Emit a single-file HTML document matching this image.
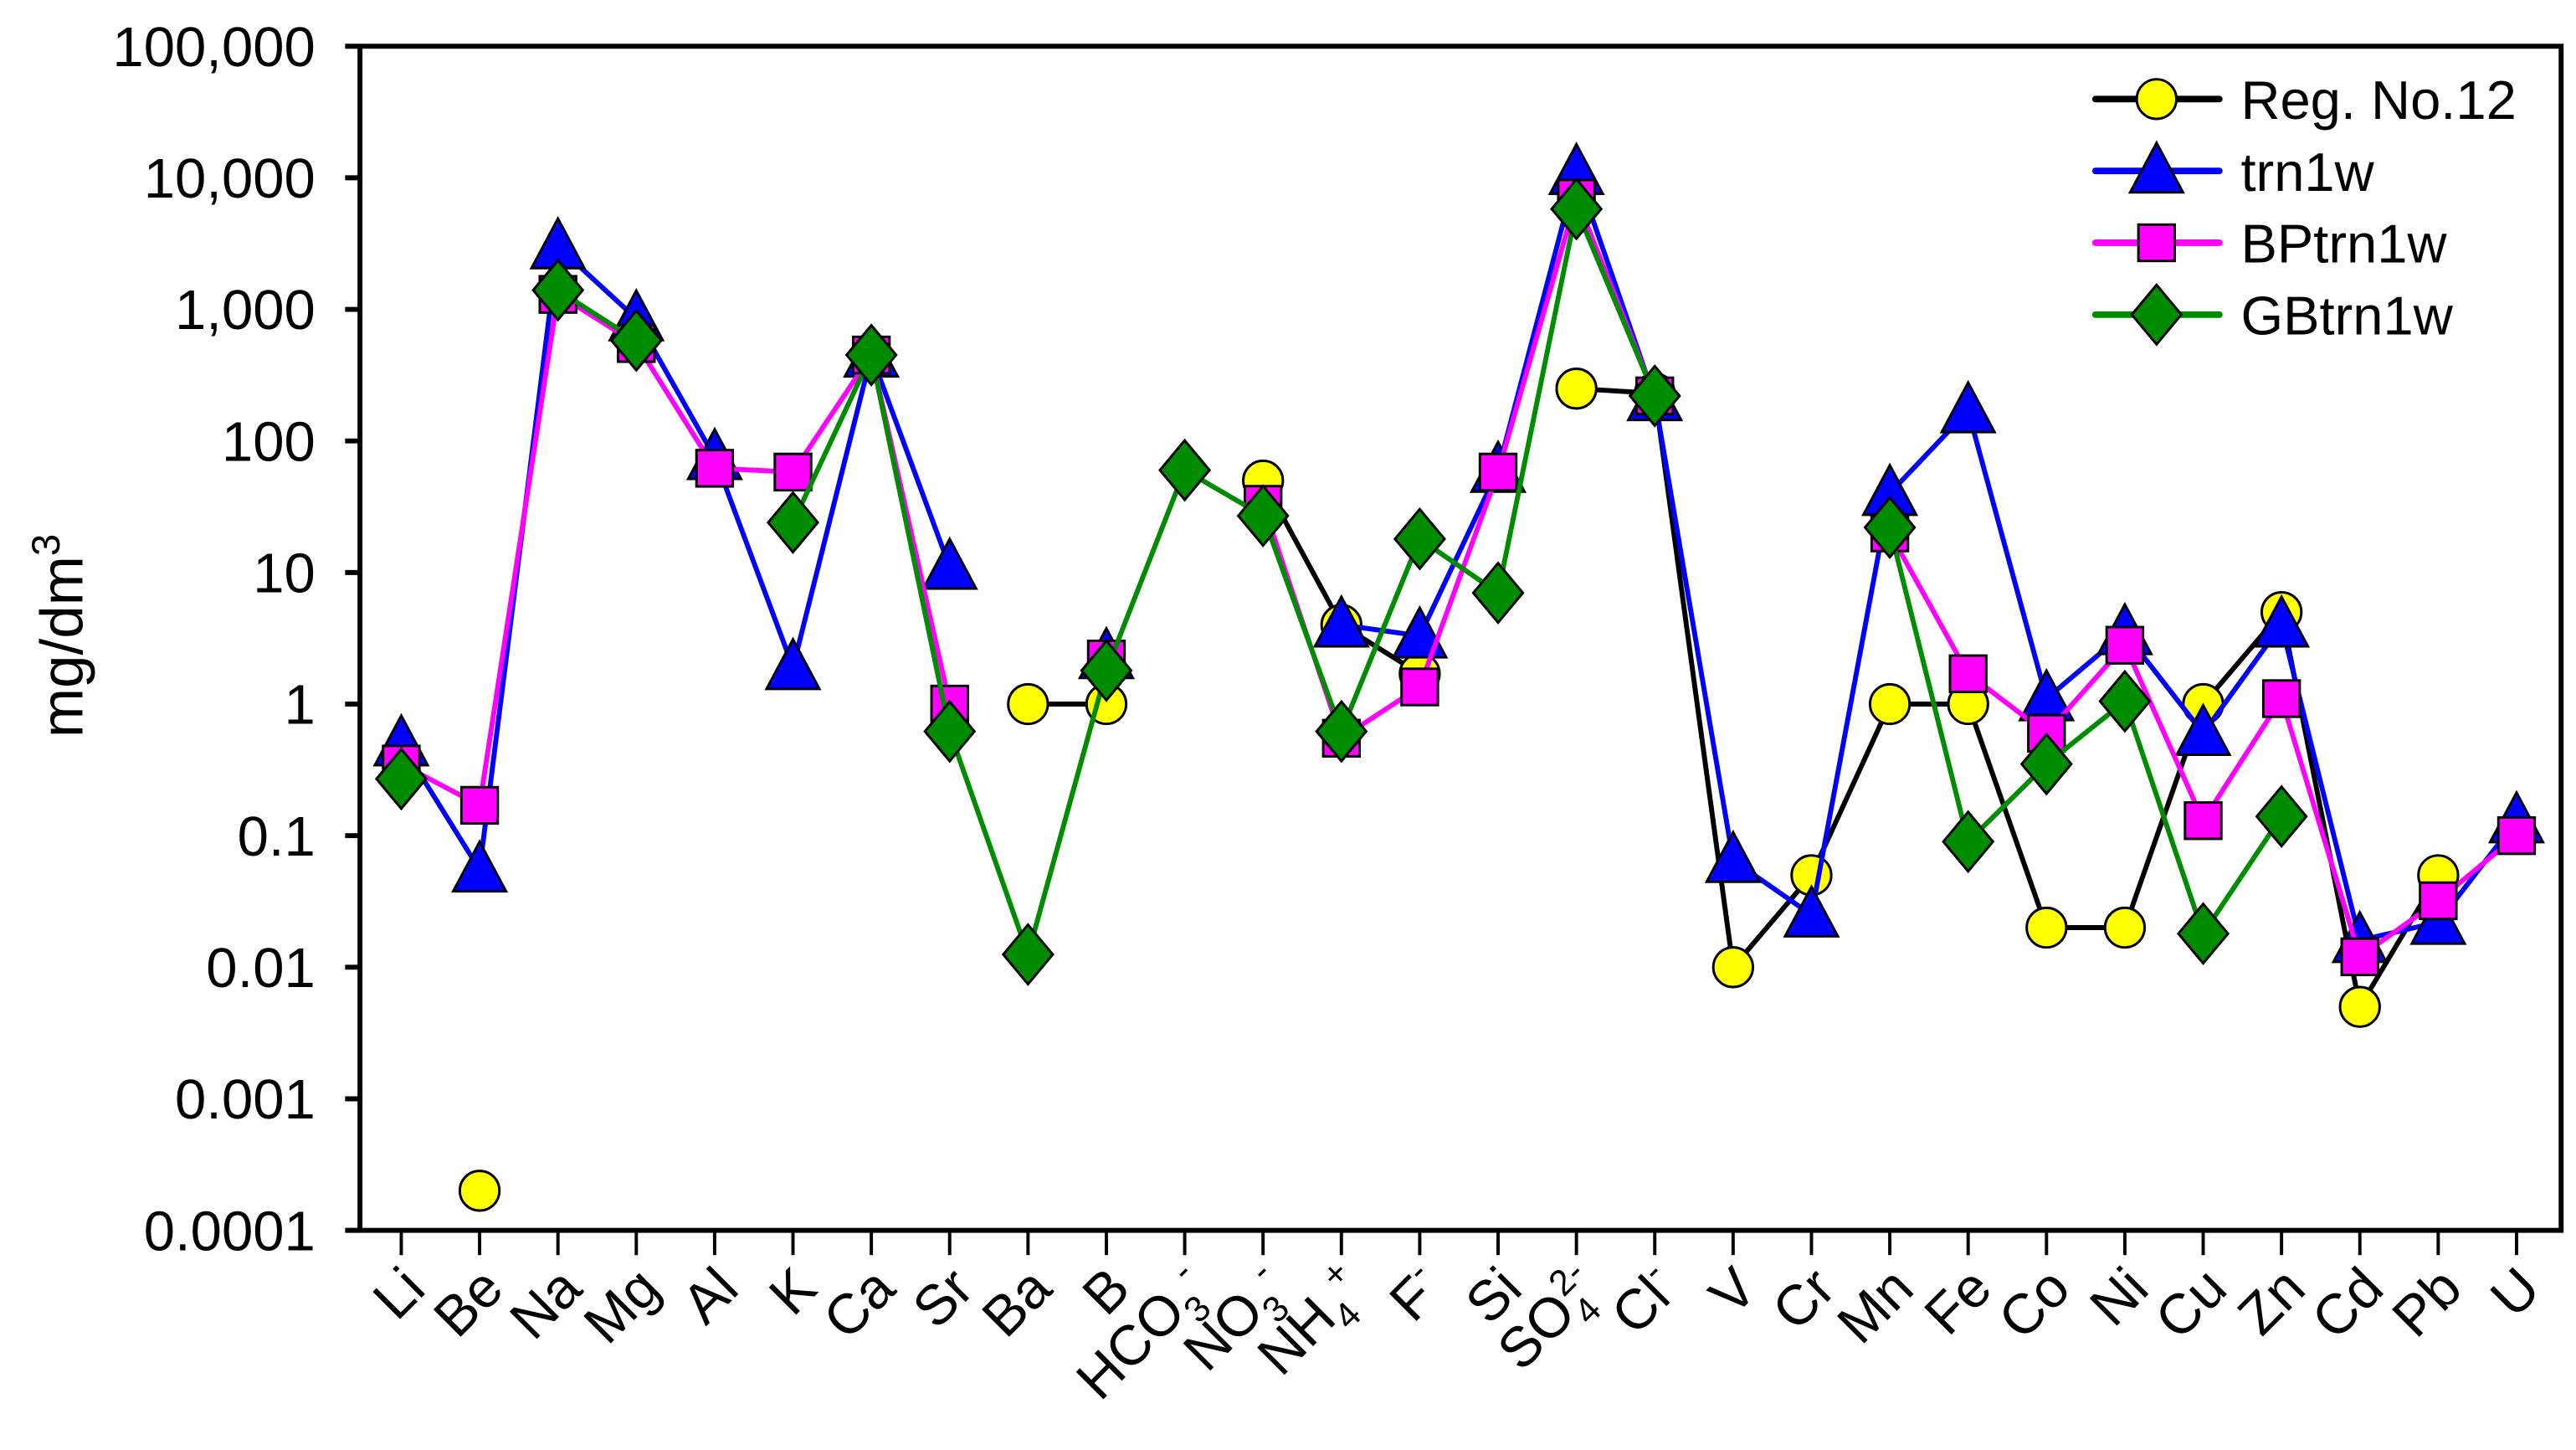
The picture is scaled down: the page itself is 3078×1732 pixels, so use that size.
<!DOCTYPE html>
<html><head><meta charset="utf-8"><style>
html,body{margin:0;padding:0;background:#fff;}
svg{display:block;font-family:"Liberation Sans",Arial,sans-serif;}
</style></head><body>
<svg id="chart" width="3078" height="1732" viewBox="0 0 1560 878" preserveAspectRatio="none" xmlns="http://www.w3.org/2000/svg">
<g id="axes"></g>
<g id="series"></g>
<g id="legend"></g>
<text transform="translate(50,385) rotate(-90)" text-anchor="middle" font-size="36">mg/dm<tspan dy="-14" font-size="24">3</tspan></text>
</svg>
<script>
const categories = ["Li","Be","Na","Mg","Al","K","Ca","Sr","Ba","B","HCO3-","NO3-","NH4+","F-","Si","SO42-","Cl-","V","Cr","Mn","Fe","Co","Ni","Cu","Zn","Cd","Pb","U"];
const yTicks = [100000,10000,1000,100,10,1,0.1,0.01,0.001,0.0001];
const yTickLabels = ["100,000","10,000","1,000","100","10","1","0.1","0.01","0.001","0.0001"];
const regNo12 = [null,0.0002,null,null,null,null,null,null,1,1,null,50,4,1.7,null,250,230,0.01,0.05,1,1,0.02,0.02,1,5,0.005,0.05,null];
const trn1w = [0.5,0.055,3000,850,75,1.9,450,11,null,2.3,null,null,4,3.3,60,11000,210,0.065,0.025,40,170,1.1,3.5,0.6,4,0.016,0.022,0.13];
const bptrn1w = [0.35,0.17,1300,550,62,58,450,1,null,2.2,null,33,0.55,1.35,58,7000,220,null,null,20,1.7,0.6,2.8,0.13,1.1,0.012,0.032,0.1];
const gbtrn1w = [0.27,null,1400,580,null,24,450,0.62,0.0125,1.8,60,27,0.62,18,7,5800,220,null,null,22,0.09,0.35,1.05,0.018,0.14,null,null,null];

const NS="http://www.w3.org/2000/svg";
const L=218,R=1551,T=28,B=745;
const x0=243,x1=1524;
function xs(i){return x0+(x1-x0)*i/(categories.length-1);}
function ys(v){return B-(Math.log10(v)+4)/9*(B-T);}
function mk(tag,attrs,parent){const e=document.createElementNS(NS,tag);for(const k in attrs)e.setAttribute(k,attrs[k]);parent.appendChild(e);return e;}
const axes=document.getElementById('axes');
mk('rect',{x:L,y:T,width:R-L,height:B-T,fill:'none',stroke:'#000','stroke-width':3},axes);
yTicks.forEach((v,i)=>{
  const t=mk('line',{x1:L-9,x2:L,y1:ys(v),y2:ys(v),stroke:'#000','stroke-width':3},axes);
  
  
  const lb=mk('text',{x:191,y:ys(v)+12,'text-anchor':'end','font-size':34},axes);
  lb.textContent=yTickLabels[i];
  
  
});
function labelParts(c){
  const m={"HCO3-":[["HCO",0],["3",1],["-",-1]],"NO3-":[["NO",0],["3",1],["-",-1]],"NH4+":[["NH",0],["4",1],["+",-1]],"F-":[["F",0],["-",-1]],"SO42-":[["SO",0],["4",1],["2-",-2]],"Cl-":[["Cl",0],["-",-1]]};
  return m[c]||[[c,0]];
}
categories.forEach((c,i)=>{
  const x=xs(i);
  const t=mk('line',{x1:x,x2:x,y1:B,y2:B+15,stroke:'#000','stroke-width':2},axes);
  
  
  const lb=mk('text',{transform:`translate(${x+16},${782}) rotate(-45)`,'text-anchor':'end','font-size':34},axes);
  
  
  let prev=0;
  labelParts(c).forEach(([s,k])=>{
    const ts=mk('tspan',{},lb);
    if(k===1){ts.setAttribute('font-size',22);ts.setAttribute('dy',9-prev);prev=9;}
    else if(k===-1){ts.setAttribute('font-size',22);ts.setAttribute('dy',-14-prev);prev=-14;}
    else if(k===-2){ts.setAttribute('font-size',22);ts.setAttribute('dx',-11);ts.setAttribute('dy',-14-prev);prev=-14;}
    else{if(prev){ts.setAttribute('dy',-prev);}prev=0;}
    ts.textContent=s;
  });
});
function marker(shape,fill,cx,cy,g){
  let e;
  if(shape==='circle')e=mk('ellipse',{cx:cx,cy:cy,rx:12,ry:12,fill:fill,stroke:'#000','stroke-width':1.5},g);
  else if(shape==='tri')e=mk('polygon',{points:`${cx},${cy-17} ${cx-16},${cy+13} ${cx+16},${cy+13}`,fill:fill,stroke:'#000','stroke-width':1.5},g);
  else if(shape==='sq')e=mk('rect',{x:cx-11,y:cy-11,width:22,height:22,fill:fill,stroke:'#000','stroke-width':1.5},g);
  else e=mk('polygon',{points:`${cx},${cy-18} ${cx+15},${cy} ${cx},${cy+18} ${cx-15},${cy}`,fill:fill,stroke:'#000','stroke-width':1.5},g);
  return e;
}
const seriesDefs=[
  {name:'reg-no12',label:'Reg. No.12',data:regNo12,color:'#000000',shape:'circle',fill:'#ffff00'},
  {name:'trn1w',label:'trn1w',data:trn1w,color:'#0000ff',shape:'tri',fill:'#0000ff'},
  {name:'bptrn1w',label:'BPtrn1w',data:bptrn1w,color:'#ff00ff',shape:'sq',fill:'#ff00ff'},
  {name:'gbtrn1w',label:'GBtrn1w',data:gbtrn1w,color:'#008c00',shape:'dia',fill:'#008c00'}
];
const sg=document.getElementById('series');
seriesDefs.forEach(s=>{
  const g=mk('g',{},sg);
  
  
  let d='',pen=false;
  s.data.forEach((v,i)=>{
    if(v==null){pen=false;return;}
    d+=(pen?'L':'M')+xs(i)+','+ys(v)+' ';pen=true;
  });
  const p=mk('path',{d:d,fill:'none',stroke:s.color,'stroke-width':3,'stroke-linejoin':'round'},g);
  
  
  s.data.forEach((v,i)=>{
    if(v==null)return;
    const m=marker(s.shape,s.fill,xs(i),ys(v),g);
    
    
  });
});
const lg=document.getElementById('legend');
seriesDefs.forEach((s,i)=>{
  const y=60+i*43.5;
  const g=mk('g',{},lg);
  
  
  mk('line',{x1:1269,x2:1344,y1:y,y2:y,stroke:s.color,'stroke-width':4,'stroke-linecap':'round'},g);
  marker(s.shape,s.fill,1306,y,g);
  const t=mk('text',{x:1357,y:y+12,'font-size':33},g);
  t.textContent=s.label;
});
</script>
</body></html>
